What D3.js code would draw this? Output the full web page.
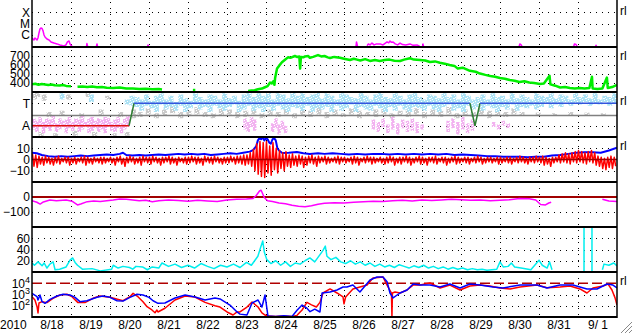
<!DOCTYPE html>
<head>
<meta charset="utf-8">
<title>Solar wind summary, Aug 2010</title>
<script src="https://d3js.org/d3.v7.min.js"></script>
</head>

<style>
body { margin: 0; background: #fff; }
svg text { font-family: "Liberation Sans", Arial, sans-serif; font-size: 12px; fill: #000; }
</style>

<body>
<svg class="chart"></svg>
</body>

<script>
// hours are counted from 2010-08-18 00:00 UT
var day0 = Date.UTC(2010, 7, 18);
function t(h) { return new Date(day0 + h * 36e5); }

// ---- data ----
// x-ray flux (W/m2), only the parts above the panel floor
var xraySegs = [
  [[0,5.4e-7],[0.6,4.4e-7],[1.2,3.6e-7],[1.8,5.4e-7],[2.5,4.4e-7],[3.1,3.6e-7],[3.7,5.4e-7],[4.3,1.5e-6],[4.9,3.4e-6],[5.5,4.2e-6],[6.2,3.8e-6],[6.8,2.3e-6],[7.4,1.0e-6],[8.0,6.6e-7],[9.2,4.4e-7],[10.5,3.6e-7],[11.7,2.4e-7],[13.5,1.9e-7],[15.4,1.6e-7],[17.2,1.3e-7],[19.7,1.05e-7],[20.9,1.3e-7],[21.8,2.4e-7],[22.8,2.9e-7],[23.4,1.6e-7],[24.6,1.0e-7]],
  [[33.6,1.0e-7],[33.8,1.7e-7],[34.2,1.0e-7]],
  [[39.7,1.0e-7],[40.0,1.6e-7],[40.3,1.0e-7]],
  [[71.2,1.0e-7],[71.4,1.3e-7],[71.7,1.0e-7]],
  [[199.4,1.0e-7],[199.7,2.4e-7],[200.3,1.0e-7]],
  [[206.2,1.1e-7],[207,1.6e-7],[208,1.3e-7],[209.2,1.9e-7],[210.5,1.3e-7],[212,1.6e-7],[214.2,1.6e-7],[216,1.3e-7],[217.5,1.9e-7],[218.5,2.4e-7],[219.5,2.0e-7],[220.3,2.9e-7],[221.2,2.2e-7],[222.2,2.4e-7],[223.5,1.6e-7],[225,1.3e-7],[226.5,1.9e-7],[228,1.4e-7],[230,1.3e-7],[232.6,1.6e-7],[234.5,1.2e-7],[236.9,1.3e-7],[238.5,1.0e-7]],
  [[240.4,1.0e-7],[240.6,1.6e-7],[240.9,1.0e-7]],
  [[299.8,1.0e-7],[300.2,1.6e-7],[301,1.3e-7],[301.5,1.0e-7]],
  [[333.4,1.0e-7],[333.8,1.6e-7],[334.8,1.4e-7],[335.4,1.0e-7]],
  [[346.9,1.0e-7],[347.1,1.2e-7],[347.4,1.0e-7]]
];

// solar wind speed (km/s)
var speedSegs = [
  [[0,385],[2,392],[4,380],[6,388],[8,383],[10,378],[12,384],[14,375],[17,372],[19,378],[21,368],[24,365]],
  [[28,358],[31,362],[34,355],[37,360],[40,352],[43,356],[46,348],[50,345],[54,350],[58,340],[62,338],[66,333],[70,336],[74,330],[78,333],[80,328]],
  [[99,322],[100.5,322]],
  [[133,311],[135,318],[137,320],[139,330],[141.5,338],[143,350],[145,365],[146.5,405],[147.5,395],[148.5,420],[149.2,380],[149.6,455],[150.8,560],[152,590],[153.8,630],[155.5,655],[157.5,685],[159,680],[161.8,700],[163,690],[164.5,695],[165,560],[165.5,690],[167,685],[168,695],[170,700],[171,680],[173,690],[176,710],[178,695],[180,700],[182,685],[183.4,678],[186,690],[189.5,680],[192,670],[195.7,656],[198,670],[200,660],[202,650],[205,665],[208,645],[211,655],[214,645],[217,655],[220,660],[223,648],[226.5,645],[229,660],[232.6,675],[235,660],[238.8,656],[242,650],[244.9,633],[248,640],[251,625],[254,615],[257,600],[260,590],[262,560],[265,570],[269.5,535],[273,525],[275.7,505],[279,490],[282,478],[285,470],[288,456],[291,448],[294,433],[297,425],[300,411],[303,420],[306,405],[309,400],[312.6,389],[315,395],[318.5,480],[319,385],[322,370],[325,350],[328,355],[331,345],[334,340],[337,344],[340,338],[343,345],[344.6,470],[345,340],[348,333],[351,338],[353.8,460],[354.3,345],[357,355],[360,378]]
];

// IMF angle (deg) streaks: [hour, low, high]
var phiGray = [[0,300,360],[2,320,350],[4,0,40],[6,290,340],[9,160,200],[13,0,30],[17,170,210],[21,300,340],[25,10,50],[29,150,190],[33,320,360],[37,0,40],[41,170,220],[45,300,330],[49,0,30],[53,160,200],[57,10,40],[61,150,220],[65,160,200],[70,180,230],[75,150,190],[80,170,220],[85,190,240],[90,150,200],[95,170,210],[100,180,240],[105,160,200],[110,150,190],[115,170,230],[120,180,220],[125,150,200],[130,160,210],[135,180,240],[140,150,190],[145,170,220],[150,160,200],[155,180,230],[160,150,190],[165,170,220],[170,160,210],[175,180,240],[180,150,200],[185,170,220],[190,160,190],[195,180,230],[200,150,210],[205,170,200],[210,160,220],[215,180,240],[220,150,190],[225,170,210],[230,160,220],[235,180,230],[240,150,200],[245,170,220],[250,160,210],[255,180,240],[260,150,190],[265,170,220],[270,160,200],[275,180,230],[280,150,210],[285,170,220],[290,160,200],[295,180,230],[300,170,200],[310,175,195],[320,170,190],[330,175,200],[340,170,195],[350,175,190]];
var phiAway = [[0,60,150],[2,40,130],[4,80,160],[6,30,120],[8,70,150],[10,50,140],[12,90,170],[14,40,110],[16,60,150],[18,80,130],[20,30,140],[22,70,160],[24,50,120],[26,90,150],[28,40,140],[30,60,170],[32,80,120],[34,30,150],[36,50,160],[38,70,130],[40,40,150],[42,60,140],[44,30,160],[46,80,150],[48,50,120],[50,40,140],[52,70,160],[54,30,110],[56,60,150],[58,80,170],
  [130,60,150],[132,40,120],[134,80,160],[136,50,140],[147,40,110],[149,70,150],[151,20,100],[153,60,130],[155,30,90],
  [209,60,140],[212,40,120],[215,80,150],[218,30,100],[221,60,160],[224,20,110],[227,70,140],[230,40,130],[233,50,150],[236,30,120],[239,60,100],
  [255,40,130],[258,70,150],[261,20,120],[264,60,160],[267,30,110],[270,50,140],[283,80,120],[286,60,100],[289,90,130],[292,70,110]];
var phiToward = [[17,300,350],[35,280,340],[57,260,300],[60,250,330],
  [63,240,320],[66,210,300],[69,250,340],[72,230,290],[75,200,330],[78,260,350],[81,220,300],[84,240,330],[87,210,280],[90,250,340],
  [93,200,310],[96,230,290],[99,260,350],[102,220,320],[105,240,300],[108,200,340],[111,250,330],[114,230,300],[117,210,350],[120,240,310],
  [123,260,330],[126,200,290],[129,220,340],[132,250,360],[135,210,320],[138,230,350],[141,200,330],[144,240,360],[147,210,300],[150,250,350],
  [153,220,340],[156,200,310],[159,240,360],[162,230,330],[165,210,350],[168,250,320],[171,200,340],[174,230,360],[177,220,310],[180,240,350],
  [183,200,330],[186,250,300],[189,210,350],[192,230,340],[195,260,320],[198,200,310],[201,240,350],[204,220,330],[207,210,300],[210,250,340],
  [213,230,360],[216,200,320],[219,240,310],[222,210,350],[225,250,330],[228,220,300],[231,200,340],[234,240,350],[237,230,320],[240,210,300],
  [243,250,340],[246,220,330],[249,200,310],[252,240,350],[255,260,320],[258,210,340],[261,230,300],[264,200,350],[267,250,330],[270,220,300],
  [273,240,320],[276,210,340],[279,250,300],[282,230,350],[285,200,320],[288,240,330],[291,220,300],[294,260,350],[297,210,310],[300,240,340],
  [303,230,320],[306,250,300],[309,220,350],[312,240,330],[315,270,320],[318,230,350],[321,260,310],[324,240,340],[327,280,330],[330,250,300],
  [333,270,350],[336,260,320],[339,280,340],[342,250,310],[345,270,350],[348,260,300],[351,280,330],[354,250,320],[357,270,350]];
// sector polarity (90 = away, 270 = toward)
var polarity = [[0,90],[59.7,90],[62.8,270],[269.5,270],[272.6,90],[275.7,270],[360,270]];

// Bt (nT)
var bt = [[0,6],[3,5.5],[6,4],[10,3],[14,2.5],[18,3],[22,2.5],[26,3],[30,3.5],[34,3],[38,3.5],[42,4],[46,4.5],[50,4],[54,5],[56,6],[58,4],[62,3.5],[66,4],[70,3.5],[74,4],[78,4.5],[82,4],[86,4.5],[90,5],[94,4.5],[98,5],[102,4.5],[106,5],[110,4],[114,4.5],[118,5],[122,5.5],[126,5],[130,6],[134,7],[136,8.4],[137,10],[138,12],[139,17],[140,19],[141,18],[142,19.5],[143,17],[144,19],[145,18],[146,15],[147,14],[148,18],[149,19],[150,17],[151,10],[152,8],[154,5.8],[158,6],[163,6.7],[167,5.5],[171,4.9],[176,5.5],[180,5],[185,5.5],[190,5],[195,4.5],[200,5],[205,4.5],[210,5],[215,5],[220,4.5],[225,5],[230,4.5],[235,5],[240,4.5],[245,5],[250,4.5],[255,5],[260,4],[265,4.5],[270,4],[275,3.5],[280,3],[285,3],[290,2.5],[295,2.5],[300,2.5],[305,2],[310,2.5],[315,2.5],[320,3.5],[325,4],[330,5],[335,6],[340,6.5],[345,6.5],[350,6],[355,8],[360,10.5]];
// Bz high / low in 2-hour bins (nT)
var bzStep = 2;
var bzHi = [5,4,3,2,3,2,1,2,3,1,2,2, 1,2,1,2,3,2,1,2,1,2,2,1, 2,1,2,3,1,2,3,2,1,2,3,2, 2,3,2,1,2,2,3,2,1,2,1,2,
  2,3,2,2,1,3,2,2,3,2,1,2, 2,3,2,3,3,4,4,6,9,14,16,15, 16,12,15,10,8,6,7,4,5,3,4,3, 2,3,4,2,3,2,3,2,1,2,3,2,
  2,1,2,3,2,1,2,3,2,2,1,2, 1,2,3,2,1,2,2,3,2,1,2,3, 2,1,2,2,3,1,2,2,1,2,3,2, 1,2,2,1,2,3,2,1,2,2,1,2,
  2,1,2,2,1,2,3,2,1,2,2,3, 2,3,2,1,2,2,4,5,6,5,6,7, 8,7,6,7,8,6,3,2,1,2,3,2];
var bzLo = [-6,-7,-4,-5,-3,-4,-5,-3,-4,-2,-3,-5, -3,-4,-2,-3,-5,-3,-4,-2,-3,-4,-3,-2, -3,-5,-2,-4,-6,-3,-2,-4,-3,-5,-2,-3, -4,-2,-3,-5,-3,-2,-4,-3,-5,-2,-3,-4,
  -3,-2,-4,-3,-5,-2,-3,-4,-2,-3,-4,-3, -3,-2,-4,-3,-4,-5,-4,-6,-10,-13,-15,-16, -12,-14,-9,-12,-8,-10,-6,-7,-5,-6,-4,-7, -5,-3,-4,-6,-3,-2,-4,-3,-2,-3,-4,-2,
  -3,-2,-4,-3,-5,-2,-3,-2,-4,-3,-2,-3, -4,-3,-2,-5,-3,-4,-2,-3,-5,-3,-2,-4, -3,-5,-2,-3,-4,-2,-3,-5,-3,-2,-4,-3, -2,-3,-4,-2,-3,-2,-4,-3,-2,-3,-2,-4,
  -3,-2,-3,-4,-2,-3,-2,-3,-4,-2,-3,-2, -3,-5,-4,-6,-3,-2,-3,-2,-3,-4,-2,-3, -2,-3,-4,-2,-3,-5,-6,-8,-9,-7,-8,-6];

// Dst-like index (nT)
var dstSegs = [
  [[0,-25],[3,-35],[5,-47],[7,-33],[11,-20],[15,-25],[21,-20],[24.6,-28],[28,-53],[30,-47],[34,-31],[38,-27],[42,-30],[50,-20],[54,-13],[58,-15],[66,-25],[70,-22],[74,-31],[78,-25],[84,-20],[90,-24],[96,-28],[102,-22],[108,-26],[114,-30],[120,-20],[126,-15],[132,-13],[136,-10],[138,10],[140,40],[141,45],[142,20],[143,-5],[145,-25],[148,-30],[152,-40],[156,-45],[160,-55],[164,-62],[168,-65],[172,-58],[176,-48],[180,-42],[186,-38],[192,-40],[198,-35],[204,-32],[210,-28],[216,-30],[222,-25],[228,-22],[234,-26],[240,-20],[246,-24],[252,-20],[258,-15],[264,-18],[270,-22],[276,-20],[282,-25],[288,-22],[294,-18],[300,-10],[306,-12],[310,-20],[313,-50],[316,-53],[318,-40],[319.5,-35]],
  [[351,-15],[355,-27],[360,-30]]
];

// proton density (p/cc)
var denSegs = [
  [[0,16],[1.5,12],[3.7,18],[6.2,11],[7.5,16],[9.2,7],[11,14],[13,18],[14.2,4],[17,5],[21,9],[23.4,21],[25,25],[26.5,17],[28,12],[31,5],[37,6],[42,2],[49,5],[50,12],[53,7],[56,10],[60,8],[62,5],[64,10],[68,9],[71,4],[74,9],[78,7],[80,16],[84,10],[88,14],[92,8],[96,12],[100,7],[104,15],[108,10],[112,6],[116,12],[120,9],[124,14],[128,8],[132,17],[135,12],[137,20],[139,28],[140.5,42],[142,55],[143,35],[144.5,22],[147,15],[150,20],[153,12],[156,18],[159,10],[162,16],[165,14],[168,20],[171,25],[174,18],[177,30],[179,38],[180.5,46],[181.5,28],[184,22],[187,26],[190,18],[193,15],[196,20],[199,14],[202,18],[205,12],[208,16],[211,10],[214,14],[217,9],[220,12],[223,8],[226,13],[229,10],[232,7],[235,11],[238,8],[241,12],[244,7],[247,10],[250,6],[253,9],[256,5],[259,8],[262,5],[265,7],[268,4],[271,6],[274,4],[277,5],[280,3],[283,4],[286,5],[288,18],[290,9],[293,10],[295,16],[297,9],[301,7],[307,4],[312,21],[314,12],[317,7],[318.5,18],[320,4]],
  [[339.7,0],[339.7,120]],
  [[344.6,0],[344.6,120]],
  [[351,4],[352,14],[355,12],[358,16],[360,11]]
];

// particle flux, two satellites
var fluxBlue = [[0,1260],[3.1,640],[3.7,325],[4.9,900],[6.2,230],[8,165],[11.1,370],[15.4,740],[19.1,1050],[23.4,900],[26.5,560],[29.5,230],[33.8,280],[40,560],[43.7,740],[48,560],[52.3,280],[56,260],[60.3,560],[64.6,1050],[68.3,900],[72,560],[74.5,280],[77.5,165],[81.8,175],[88,490],[94.2,900],[100.3,600],[106.5,325],[112.6,490],[115.7,400],[121.8,116],[126.2,28],[128,18],[132.3,15],[135.4,175],[139.1,325],[141.5,77],[143.4,900],[145.2,12],[150,11],[155,13],[160,11],[163.1,40],[166.2,116],[169.2,60],[171.1,30],[174,50],[177.2,28],[178.5,1360],[183.4,1670],[187.7,2500],[191.4,4600],[193.8,4600],[197.5,6900],[201.8,1670],[208,19500],[212.3,36000],[216,36000],[218.5,13500],[220.3,1360],[222.2,490],[226.5,1360],[230.8,2500],[234.5,8500],[238.8,6900],[244.9,6900],[251.1,4600],[257.2,8500],[263.4,3800],[269.5,8500],[275.7,6900],[283.7,4600],[289.8,3800],[300.3,6900],[310.8,6900],[316.9,3800],[324.9,6900],[332.9,6900],[341.5,3100],[347.7,3100],[353.8,8500],[357.5,6900],[360,3800]];
var fluxRed = [[0,640],[1.8,325],[3.1,82],[3.7,23],[4.3,175],[6.2,230],[9.2,190],[12.9,460],[17.2,900],[21.5,1050],[24.6,640],[28.3,190],[32.6,190],[37.5,460],[41.8,740],[48,560],[56,280],[60.3,640],[62.2,1260],[65.2,640],[68.3,230],[70.8,82],[73.8,42],[75.7,24],[76.9,42],[77.5,28],[81.8,60],[88,325],[94.2,740],[100.3,600],[106.5,200],[112.6,100],[115.7,77],[120,28],[123.7,15],[126.2,28],[128,28],[132.3,77],[135.4,215],[139.1,77],[141.5,23],[143.4,15],[145.2,12],[150,11],[155,12],[160,11],[163.1,14],[166.2,42],[169.2,200],[172,120],[175,77],[177.2,200],[179.1,1360],[183.4,3100],[187.7,1360],[191.4,600],[192,150],[193,600],[197.5,3100],[201.8,4600],[206.2,6900],[209.8,29000],[216,36000],[218.5,6900],[221.2,1360],[221.5,10],[221.8,1360],[223.4,1670],[226.5,1360],[230.8,2500],[234.5,6900],[238.8,6900],[244.9,10500],[251.1,3800],[257.2,6900],[263.4,2500],[269.5,5700],[275.7,6900],[281.8,5700],[288,3800],[294.2,3100],[300.3,4600],[310.8,6900],[316.9,4000],[324.9,4600],[331.1,5700],[337.2,3100],[341.5,1360],[345.2,3800],[351.4,5700],[354.5,8500],[356.9,2500],[358.8,500],[360,116]];
var fluxAlert = 1e4;

// ---- layout ----
var width = 633, height = 334;
var left = 32, right = 617, panelH = 45;
var tops = [2, 47, 92, 137, 182, 227, 272];
var bottom = tops[6] + panelH;

var svg = d3.select(".chart").attr("width", width).attr("height", height);

var x = d3.scaleUtc().domain([t(0), t(360)]).range([left, right]);

function band(i) { return [tops[i] + panelH, tops[i]]; }
var yXray = d3.scaleLog().domain([8.5e-8, 8.5e-4]).range(band(0));
var ySpeed = d3.scaleLinear().domain([300, 800]).range(band(1));
var yPhi = d3.scaleLinear().domain([0, 360]).range(band(2));
var yB = d3.scaleLinear().domain([-20, 20]).range(band(3));
var yDst = d3.scaleLinear().domain([-200, 100]).range(band(4));
var yDen = d3.scaleLinear().domain([0, 80]).range(band(5));
var yFlux = d3.scaleLog().domain([10, 1e5]).range(band(6));

// clip paths, one per panel
var defs = svg.append("defs");
tops.forEach(function(top, i) {
  defs.append("clipPath").attr("id", "clip" + i)
    .append("rect").attr("x", left).attr("y", top).attr("width", right - left).attr("height", panelH);
});
function panel(i) { return svg.append("g").attr("clip-path", "url(#clip" + i + ")"); }

// speckled fills for the angle scatter: solid colour with a few holes
function speckle(id, color) {
  var p = defs.append("pattern").attr("id", id).attr("patternUnits", "userSpaceOnUse")
    .attr("width", 6).attr("height", 5);
  p.append("rect").attr("width", 6).attr("height", 5).attr("fill", color);
  [[1,1,1,1],[4,0,1,1],[3,3,2,1],[0,4,1,1],[5,2,1,1]].forEach(function(r) {
    p.append("rect").attr("x", r[0]).attr("y", r[1]).attr("width", r[2]).attr("height", r[3]).attr("fill", "#fff");
  });
}
speckle("spGray", "#cacaca");
speckle("spAway", "#f2b2f0");
speckle("spToward", "#ace2f5");

// dotted grid
function hGrid(scale, values) {
  svg.append("g").selectAll("line").data(values).join("line")
    .attr("x1", left).attr("x2", right)
    .attr("y1", function(d) { return Math.round(scale(d)) + 0.5; })
    .attr("y2", function(d) { return Math.round(scale(d)) + 0.5; })
    .attr("stroke", "#000").attr("stroke-dasharray", "1,5");
}
hGrid(yXray, [1e-4, 1e-5, 1e-6]);
hGrid(ySpeed, [400, 500, 600, 700]);
hGrid(yPhi, [90, 270]);
hGrid(yB, [-10, 10]);
hGrid(yDst, [-100]);
hGrid(yDen, [20, 40, 60]);
hGrid(yFlux, [100, 1000]);

var dayLines = d3.utcDay.range(t(24), t(360));
svg.append("g").selectAll("line").data(dayLines).join("line")
  .attr("x1", function(d) { return Math.round(x(d)) + 0.5; })
  .attr("x2", function(d) { return Math.round(x(d)) + 0.5; })
  .attr("y1", tops[0]).attr("y2", bottom)
  .attr("stroke", "#000").attr("stroke-dasharray", "1,5");

function drawLine(g, data, y, color, w) {
  var line = d3.line().x(function(d) { return x(t(d[0])); }).y(function(d) { return y(d[1]); });
  g.append("path").datum(data).attr("d", line)
    .attr("fill", "none").attr("stroke", color).attr("stroke-width", w).attr("stroke-linejoin", "round");
}

// panel 1: x-ray
var p0 = panel(0);
xraySegs.forEach(function(s) { drawLine(p0, s, yXray, "#ff00ff", 1.5); });

// panel 2: speed
var p1 = panel(1);
speedSegs.forEach(function(s) { drawLine(p1, s, ySpeed, "#00ee00", 2.5); });

// panel 3: angle
var p2 = panel(2);
function streaks(data, fill, w) {
  p2.append("g").selectAll("rect").data(data).join("rect")
    .attr("x", function(d) { return x(t(d[0])); })
    .attr("y", function(d) { return yPhi(d[2]); })
    .attr("width", w)
    .attr("height", function(d) { return yPhi(d[1]) - yPhi(d[2]); })
    .attr("fill", fill);
}
streaks(phiGray, "url(#spGray)", 5);
streaks(phiAway, "url(#spAway)", 3.5);
streaks(phiToward, "url(#spToward)", 5);
p2.append("line").attr("x1", left).attr("x2", right)
  .attr("y1", Math.round(yPhi(180)) + 0.5).attr("y2", Math.round(yPhi(180)) + 0.5)
  .attr("stroke", "#808080").attr("stroke-width", 1.5);
d3.pairs(polarity).forEach(function(p) {
  var c = p[0][1] != p[1][1] ? "#2e7d32" : (p[0][1] == 90 ? "#e01010" : "#3355dd");
  drawLine(p2, p, yPhi, c, 1.5);
});

// panel 4: Bt / Bz (Bz traced as a saw between the bin high and low)
var p3 = panel(3);
drawLine(p3, bt, yB, "#0000ff", 2);
var bzTrace = [];
bzHi.forEach(function(hi, i) {
  bzTrace.push([i * bzStep + 0.3, hi]);
  bzTrace.push([i * bzStep + 1.2, bzLo[i]]);
});
drawLine(p3, bzTrace, yB, "#ff0000", 1.5);
p3.append("line").attr("x1", left).attr("x2", right).attr("y1", yB(0)).attr("y2", yB(0))
  .attr("stroke", "#a00000").attr("stroke-width", 1.5);

// panel 5: Dst
var p4 = panel(4);
p4.append("line").attr("x1", left).attr("x2", right).attr("y1", yDst(0)).attr("y2", yDst(0))
  .attr("stroke", "#a00000").attr("stroke-width", 2);
dstSegs.forEach(function(s) { drawLine(p4, s, yDst, "#ff00ff", 1.5); });

// panel 6: density
var p5 = panel(5);
denSegs.forEach(function(s) { drawLine(p5, s, yDen, "#00eeee", 1.5); });

// panel 7: flux
var p6 = panel(6);
p6.append("line").attr("x1", left).attr("x2", right).attr("y1", yFlux(fluxAlert)).attr("y2", yFlux(fluxAlert))
  .attr("stroke", "#b00000").attr("stroke-width", 1.5).attr("stroke-dasharray", "10,4");
drawLine(p6, fluxRed, yFlux, "#ff0000", 1.5);
drawLine(p6, fluxBlue, yFlux, "#0000ff", 1.5);

// frame
svg.append("g").selectAll("line").data(tops.slice(1).concat([bottom])).join("line")
  .attr("x1", left).attr("x2", right).attr("y1", function(d) { return d; }).attr("y2", function(d) { return d; })
  .attr("stroke", "#000").attr("stroke-width", 2);
svg.append("line").attr("x1", left).attr("x2", left).attr("y1", 0).attr("y2", bottom + 1).attr("stroke", "#000").attr("stroke-width", 1.5);
svg.append("line").attr("x1", right).attr("x2", right).attr("y1", 0).attr("y2", bottom + 1).attr("stroke", "#000").attr("stroke-width", 1.5);

// y labels
function yLabels(scale, values, fmt) {
  var g = svg.append("g").attr("transform", "translate(" + left + ",0)")
    .call(d3.axisLeft(scale).tickValues(values).tickSize(0).tickPadding(2).tickFormat(fmt));
  g.select(".domain").remove();
  return g;
}
yLabels(yXray, [1e-4, 1e-5, 1e-6], function(d) { return ["X", "M", "C"][Math.round(-Math.log10(d)) - 4]; });
yLabels(ySpeed, [400, 500, 600, 700], d3.format("d"));
yLabels(yPhi, [90, 270], function(d) { return d == 90 ? "A" : "T"; });
yLabels(yB, [-10, 0, 10], d3.format("d"));
yLabels(yDst, [-100, 0], d3.format("d"));
yLabels(yDen, [20, 40, 60], d3.format("d"));
var gf = yLabels(yFlux, [100, 1000, 10000], function() { return ""; });
gf.selectAll(".tick text").each(function(d) {
  var s = d3.select(this);
  s.append("tspan").text("10");
  s.append("tspan").attr("dy", -5).attr("font-size", "9px").text(Math.round(Math.log10(d)));
});

// right-hand marks
svg.append("g").selectAll("text").data([0, 1, 2, 3, 6]).join("text")
  .attr("x", right + 3).attr("y", function(i) { return tops[i] + 13; })
  .text("rl");

// x labels at noon of each day
var noons = d3.range(15).map(function(d) { return t(d * 24 + 12); });
var gx = svg.append("g").attr("transform", "translate(0," + bottom + ")")
  .call(d3.axisBottom(x).tickValues(noons).tickSize(0).tickPadding(3)
    .tickFormat(function(d) { return (d.getUTCMonth() + 1) + "/" + (d.getUTCDate() < 10 ? " " : "") + d.getUTCDate(); }));
gx.select(".domain").remove();
gx.selectAll("text").style("white-space", "pre");
svg.append("text").attr("x", 0).attr("y", bottom + 11.5).text("2010");

// window resize grip
svg.append("g").selectAll("line").data([0, 4, 8]).join("line")
  .attr("x1", 632).attr("y1", function(d) { return 322 + d; })
  .attr("x2", function(d) { return 621 + d; }).attr("y2", 333)
  .attr("stroke", "#888").attr("stroke-width", 1);
</script>
